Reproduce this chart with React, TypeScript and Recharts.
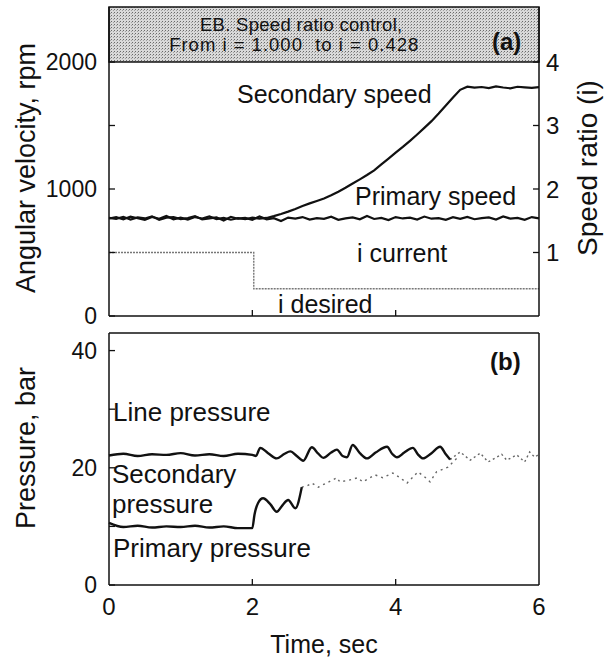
import { LineChart, Line, XAxis, YAxis, ReferenceArea, ReferenceLine } from "recharts";

// time base for the speed traces, seconds
const speedTime = [
  0, 0.1, 0.2, 0.3, 0.4, 0.5, 0.6, 0.7, 0.8, 0.9,
  1, 1.1, 1.2, 1.3, 1.4, 1.5, 1.6, 1.7, 1.8, 1.9,
  2, 2.1, 2.2, 2.3, 2.4, 2.5, 2.6, 2.7, 2.8, 2.9,
  3, 3.1, 3.2, 3.3, 3.4, 3.5, 3.6, 3.7, 3.8, 3.9,
  4, 4.1, 4.2, 4.3, 4.4, 4.5, 4.6, 4.7, 4.8, 4.9,
  5, 5.1, 5.2, 5.3, 5.4, 5.5, 5.6, 5.7, 5.8, 5.9,
  6,
];

// rpm
const primarySpeed = [
  772, 765, 781, 760, 776, 768, 785, 758, 774, 779,
  763, 771, 787, 760, 769, 777, 752, 781, 766, 773,
  758, 784, 761, 770, 748, 775, 767, 779, 759, 771,
  765, 782, 757, 769, 776, 761, 788, 764, 772, 755,
  779, 768, 774, 760, 783, 766, 771, 757, 778, 765,
  780, 762, 770, 776, 759, 784, 767, 773, 758, 779,
  769,
];

const secondarySpeed = [
  768, 778, 762, 783, 770, 757, 780, 766, 788, 761,
  775, 759, 779, 768, 784, 763, 773, 758, 770, 762,
  774, 766, 772, 786, 803, 822, 843, 866, 887, 906,
  925, 950, 979, 1010, 1043, 1076, 1110, 1147, 1194, 1239,
  1286, 1331, 1379, 1429, 1481, 1534, 1594, 1658, 1721, 1781,
  1806, 1798, 1803, 1795, 1808, 1799, 1793, 1805, 1800, 1796,
  1802,
];

// speed ratio step (desired / current)
const ratioTime = [0, 2.02, 2.02, 6];
const ratioValue = [1.0, 1.0, 0.428, 0.428];

// pressures, bar
const linePressureTime = [
  0, 0.2, 0.4, 0.6, 0.8, 1.0, 1.2, 1.4, 1.6, 1.8, 2.0,
  2.05, 2.11, 2.22, 2.34, 2.45, 2.53, 2.62, 2.71, 2.83, 2.92,
  2.99, 3.1, 3.18, 3.26, 3.32, 3.4, 3.5, 3.6, 3.72, 3.88,
  3.95, 4.02, 4.12, 4.24, 4.31, 4.38, 4.5, 4.62, 4.7, 4.76,
];
const linePressure = [
  22.1, 22.4, 22.0, 22.3, 22.2, 22.5, 22.1, 22.3, 22.0, 22.4, 22.2,
  22.0, 23.4, 22.5, 21.6, 22.4, 22.8, 22.0, 21.2, 23.5, 22.4,
  21.7, 22.6, 23.1, 22.0, 21.8, 23.9, 22.5, 21.6, 22.6, 23.6,
  22.4, 21.8, 22.6, 23.4, 22.3, 21.6, 22.5, 23.6, 22.3, 21.4,
];

const secondaryTailTime = [4.76, 4.9, 5.04, 5.18, 5.29, 5.41, 5.48, 5.55, 5.69, 5.8, 5.87, 5.94, 6.0];
const secondaryTail = [21.4, 22.7, 21.3, 22.5, 21.0, 21.8, 22.3, 21.3, 22.2, 21.0, 22.7, 21.8, 22.3];

const primaryPressureTime = [
  0, 0.2, 0.4, 0.6, 0.8, 1.0, 1.2, 1.4, 1.6, 1.8, 2.0,
  2.03, 2.08, 2.15, 2.25, 2.34, 2.42, 2.5, 2.6, 2.69,
];
const primaryPressure = [
  10.6, 9.9, 10.1, 9.8, 10.0, 9.9, 10.1, 9.8, 10.0, 9.7, 9.7,
  12.0, 14.0, 14.8, 13.8, 12.5, 13.6, 14.5, 13.1, 16.7,
];

const primaryTailTime = [
  2.69, 2.76, 2.83, 2.92, 3.05, 3.18, 3.22, 3.35, 3.47, 3.54, 3.71,
  3.82, 3.96, 4.05, 4.16, 4.31, 4.4, 4.48, 4.57, 4.73, 4.86,
];
const primaryTail = [
  16.7, 16.9, 17.4, 16.7, 17.5, 18.3, 17.6, 17.9, 18.3, 17.6, 18.8,
  18.3, 19.1, 18.4, 17.4, 19.3, 18.5, 17.6, 19.3, 20.1, 21.7,
];

const rpmTicks = [0, 500, 1000, 1500, 2000];
const rpmLabels = [0, 1000, 2000];
const ratioTicks = [1, 2, 3, 4];
const pressureTicks = [0, 10, 20, 30, 40];
const pressureLabels = [0, 20, 40];
const timeTicks = [0, 2, 4, 6];

const zip = (ts: number[], vs: number[]) => ts.map((t, i) => ({ t, v: vs[i] }));

const FONT = '"Liberation Sans", Arial, sans-serif';
const INK = "#111";
const M = 8; // tick margin
const TL = 6; // inward tick length

const leftTick = (labels: number[], size = 23) => (props: any) => {
  const { x, y, payload } = props;
  const v = payload.value;
  const ax = x + M;
  return (
    <g>
      <line x1={ax} x2={ax + TL} y1={y} y2={y} stroke={INK} strokeWidth={1.3} />
      {labels.includes(v) && (
        <text x={ax - 12} y={y} dy="0.36em" textAnchor="end" fontSize={size} fontFamily={FONT} fill={INK}>
          {v}
        </text>
      )}
    </g>
  );
};

const rightTick = (showLabel: boolean) => (props: any) => {
  const { x, y, payload } = props;
  const ax = x - M;
  return (
    <g>
      <line x1={ax} x2={ax - TL} y1={y} y2={y} stroke={INK} strokeWidth={1.3} />
      {showLabel && (
        <text x={ax + 7} y={y} dy="0.36em" textAnchor="start" fontSize={24} fontFamily={FONT} fill={INK}>
          {payload.value}
        </text>
      )}
    </g>
  );
};

const bottomTick = (showLabel: boolean) => (props: any) => {
  const { x, y, payload } = props;
  const ay = y - M;
  const v = payload.value;
  const inner = v !== 0 && v !== 6;
  return (
    <g>
      {inner && <line x1={x} x2={x} y1={ay} y2={ay - TL} stroke={INK} strokeWidth={1.3} />}
      {showLabel && (
        <text x={x} y={ay + 30} textAnchor="middle" fontSize={24} fontFamily={FONT} fill={INK}>
          {v}
        </text>
      )}
    </g>
  );
};

const txt = { fontFamily: FONT, fill: INK } as const;

// gray stippled title box of panel (a), with its text
const headerShape = (props: any) => {
  const { x, y, width, height } = props;
  const cx = x + width * 0.44;
  return (
    <g>
      <defs>
        <pattern id="stipple" width="3" height="3" patternUnits="userSpaceOnUse">
          <rect width="3" height="3" fill="#d9d9d9" />
          <rect width="1" height="1" fill="#6a6a6a" />
          <rect x="2" y="1" width="1" height="1" fill="#a0a0a0" />
        </pattern>
      </defs>
      <rect x={x} y={y} width={width} height={height} fill="url(#stipple)" stroke={INK} strokeWidth={1.5} />
      <text x={cx + 3} y={y + 24} textAnchor="middle" fontSize={18.5} letterSpacing={0.3} {...txt}>EB. Speed ratio control,</text>
      <text x={cx - 4} y={y + 44} textAnchor="middle" fontSize={18.5} letterSpacing={1} {...txt} xmlSpace="preserve">From i = 1.000  to i = 0.428</text>
      <text x={x + width - 47} y={y + 43} fontSize={24} fontWeight="bold" {...txt}>(a)</text>
    </g>
  );
};

export default function App() {
  const prim = zip(speedTime, primarySpeed);
  const sec = zip(speedTime, secondarySpeed);
  const ratio = zip(ratioTime, ratioValue);
  const lineP = zip(linePressureTime, linePressure);
  const secTail = zip(secondaryTailTime, secondaryTail);
  const primP = zip(primaryPressureTime, primaryPressure);
  const primTail = zip(primaryTailTime, primaryTail);

  return (
    <div style={{ position: "absolute", left: 0, top: 0, width: 608, height: 659, background: "#fff" }}>
      <div style={{ position: "absolute", left: 0, top: 0 }}>
        <LineChart width={608} height={330} margin={{ top: 7, right: 0, bottom: 0, left: 0 }}>
          <XAxis
            dataKey="t"
            type="number"
            domain={[0, 6]}
            ticks={timeTicks}
            height={14}
            tickSize={0}
            tickMargin={M}
            tickLine={false}
            axisLine={{ stroke: INK, strokeWidth: 1.5 }}
            tick={bottomTick(false)}
          />
          <YAxis
            yAxisId="rpm"
            orientation="left"
            width={109}
            domain={[0, 2433]}
            ticks={rpmTicks}
            tickSize={0}
            tickMargin={M}
            tickLine={false}
            axisLine={{ stroke: INK, strokeWidth: 1.5 }}
            tick={leftTick(rpmLabels)}
            interval={0}
          />
          <YAxis
            yAxisId="ratio"
            orientation="right"
            width={69}
            domain={[0, 4.866]}
            ticks={ratioTicks}
            tickSize={0}
            tickMargin={M}
            tickLine={false}
            axisLine={{ stroke: INK, strokeWidth: 1.5 }}
            tick={rightTick(true)}
            interval={0}
          />
          <ReferenceArea yAxisId="rpm" x1={0} x2={6} y1={2000} y2={2433} shape={headerShape} />
          <Line yAxisId="ratio" data={ratio} dataKey="v" type="linear" stroke="#777" strokeWidth={1.4} strokeDasharray="2 1" dot={false} isAnimationActive={false} />
          <Line yAxisId="rpm" data={sec} dataKey="v" type="linear" stroke={INK} strokeWidth={2.2} dot={false} isAnimationActive={false} />
          <Line yAxisId="rpm" data={prim} dataKey="v" type="linear" stroke={INK} strokeWidth={2.2} dot={false} isAnimationActive={false} />

          <text x={237} y={103} fontSize={25} {...txt}>Secondary speed</text>
          <text x={355} y={205} fontSize={25} {...txt}>Primary speed</text>
          <text x={357} y={262} fontSize={25} {...txt}>i current</text>
          <text x={278} y={313} fontSize={25} {...txt}>i desired</text>
          <text transform="translate(35,168) rotate(-90)" textAnchor="middle" fontSize={27} {...txt}>Angular velocity, rpm</text>
          <text transform="translate(597,168) rotate(-90)" textAnchor="middle" fontSize={28} {...txt}>Speed ratio (i)</text>
        </LineChart>
      </div>

      <div style={{ position: "absolute", left: 0, top: 320 }}>
        <LineChart width={608} height={339} margin={{ top: 13, right: 0, bottom: 0, left: 0 }}>
          <XAxis
            dataKey="t"
            type="number"
            domain={[0, 6]}
            ticks={timeTicks}
            height={74}
            tickSize={0}
            tickMargin={M}
            tickLine={false}
            axisLine={{ stroke: INK, strokeWidth: 1.5 }}
            tick={bottomTick(true)}
          />
          <YAxis
            yAxisId="p"
            orientation="left"
            width={109}
            domain={[0, 43]}
            ticks={pressureTicks}
            tickSize={0}
            tickMargin={M}
            tickLine={false}
            axisLine={{ stroke: INK, strokeWidth: 1.5 }}
            tick={leftTick(pressureLabels)}
            interval={0}
          />
          <YAxis
            yAxisId="pr"
            orientation="right"
            width={69}
            domain={[0, 43]}
            ticks={pressureTicks}
            tickSize={0}
            tickMargin={M}
            tickLine={false}
            axisLine={{ stroke: INK, strokeWidth: 1.5 }}
            tick={rightTick(false)}
            interval={0}
          />
          <ReferenceLine yAxisId="p" y={43} stroke={INK} strokeWidth={1.5} />
          <Line yAxisId="p" data={secTail} dataKey="v" type="linear" stroke="#666" strokeWidth={1.4} strokeDasharray="2 3" dot={false} isAnimationActive={false} />
          <Line yAxisId="p" data={primTail} dataKey="v" type="linear" stroke="#666" strokeWidth={1.4} strokeDasharray="2 4" dot={false} isAnimationActive={false} />
          <Line yAxisId="p" data={lineP} dataKey="v" type="monotone" stroke={INK} strokeWidth={2.4} dot={false} isAnimationActive={false} />
          <Line yAxisId="p" data={primP} dataKey="v" type="monotone" stroke={INK} strokeWidth={2.4} dot={false} isAnimationActive={false} />

          <text x={490} y={50} fontSize={24} fontWeight="bold" {...txt}>(b)</text>
          <text x={113} y={101} fontSize={26} {...txt}>Line pressure</text>
          <text x={112} y={163} fontSize={26} {...txt}>Secondary</text>
          <text x={112} y={193} fontSize={26} {...txt}>pressure</text>
          <text x={113} y={237} fontSize={26} {...txt}>Primary pressure</text>
          <text x={324} y={333} textAnchor="middle" fontSize={25} {...txt}>Time, sec</text>
          <text transform="translate(35,128) rotate(-90)" textAnchor="middle" fontSize={27} {...txt}>Pressure, bar</text>
        </LineChart>
      </div>
    </div>
  );
}
